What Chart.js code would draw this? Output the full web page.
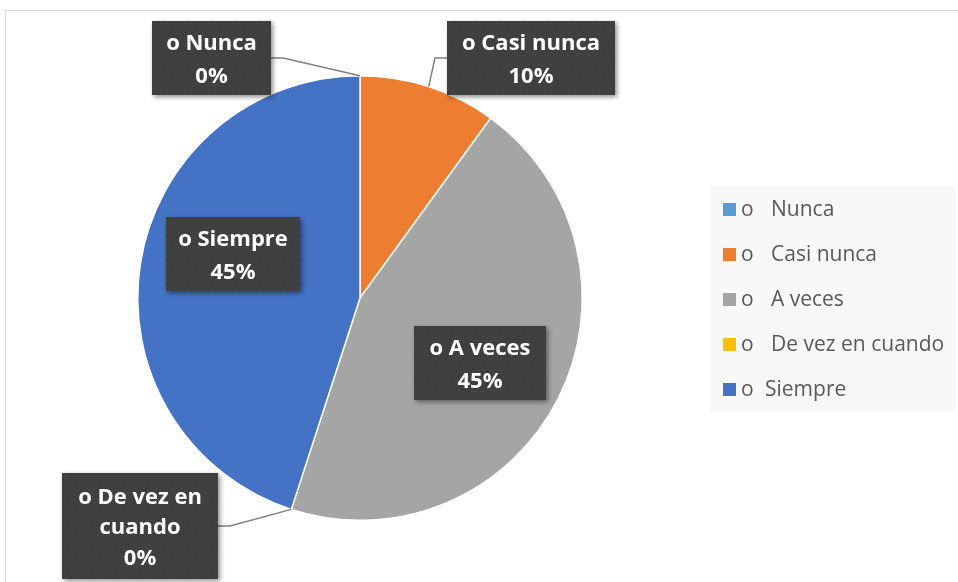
<!DOCTYPE html>
<html>
<head>
<meta charset="utf-8">
<script src="https://cdn.jsdelivr.net/npm/chart.js@4/dist/chart.umd.min.js"></script>
<style>
  html, body { margin: 0; padding: 0; background: #fff; }
  #pieChart { display: block; }
</style>
</head>
<body>
<canvas id="pieChart" width="958" height="582"></canvas>
<script>
// Data
const categories = ['Nunca', 'Casi nunca', 'A veces', 'De vez en cuando', 'Siempre'];
const percentages = [0, 10, 45, 0, 45];
const sliceColors = ['#5b9bd5', '#ed7d31', '#a5a5a5', '#ffc000', '#4472c4'];

// Where each dark label box sits, relative to the pie centre (Excel's layout)
const labelBoxes = [
    { dx: -148.5, dy: -240, w: 119, h: 74, leader: true },
    { dx: 171, dy: -240, w: 168, h: 74, leader: true },
    { dx: 120, dy: 65, w: 132, h: 74 },
    { dx: -220, dy: 228, w: 156, h: 106, leader: true },
    { dx: -127, dy: -44, w: 134, h: 74 }
];

// little dotted texture used by Excel's dark label style
function makePattern(ctx) {
    const c = document.createElement('canvas');
    c.width = 6; c.height = 6;
    const p = c.getContext('2d');
    p.fillStyle = '#3f3f3f';
    p.fillRect(0, 0, 6, 6);
    p.fillStyle = '#4b4b4b';
    p.fillRect(1, 1, 1, 1);
    p.fillRect(4, 4, 1, 1);
    return ctx.createPattern(c, 'repeat');
}

function wrapText(ctx, text, maxWidth) {
    const words = text.split(' ');
    const lines = [];
    let line = '';
    words.forEach((w) => {
        const test = line ? line + ' ' + w : w;
        if (line && ctx.measureText(test).width > maxWidth) {
            lines.push(line);
            line = w;
        } else {
            line = test;
        }
    });
    if (line) lines.push(line);
    return lines;
}

// chart frame
const framePlugin = {
    id: 'frame',
    beforeDraw(chart) {
        const ctx = chart.ctx;
        ctx.save();
        ctx.fillStyle = '#ffffff';
        ctx.fillRect(0, 0, chart.width, chart.height);
        ctx.strokeStyle = '#d9d9d9';
        ctx.lineWidth = 1;
        ctx.strokeRect(5.5, 10.5, chart.width + 20, chart.height + 20);
        ctx.restore();
    }
};

// dark boxed data labels with leader lines
const boxLabelsPlugin = {
    id: 'boxLabels',
    afterDatasetsDraw(chart) {
        const ctx = chart.ctx;
        const arcs = chart.getDatasetMeta(0).data;
        const pattern = makePattern(ctx);
        ctx.save();
        arcs.forEach((arc, i) => {
            const place = labelBoxes[i];
            const cx = arc.x + place.dx;
            const cy = arc.y + place.dy;
            const left = cx - place.w / 2;
            const top = cy - place.h / 2;

            if (place.leader) {
                const mid = (arc.startAngle + arc.endAngle) / 2;
                const ex = arc.x + Math.cos(mid) * arc.outerRadius;
                const ey = arc.y + Math.sin(mid) * arc.outerRadius;
                const side = ex > cx ? left + place.w : left;
                const elbow = ex > cx ? side + 12 : side - 12;
                ctx.strokeStyle = '#808080';
                ctx.lineWidth = 1.5;
                ctx.beginPath();
                ctx.moveTo(ex, ey);
                ctx.lineTo(elbow, cy);
                ctx.lineTo(side, cy);
                ctx.stroke();
            }

            ctx.save();
            ctx.shadowColor = 'rgba(0,0,0,0.45)';
            ctx.shadowBlur = 5;
            ctx.shadowOffsetX = 2;
            ctx.shadowOffsetY = 2;
            ctx.fillStyle = pattern;
            ctx.fillRect(left, top, place.w, place.h);
            ctx.restore();

            ctx.font = 'bold 22px "Open Sans"';
            ctx.fillStyle = '#ffffff';
            ctx.textAlign = 'center';
            ctx.textBaseline = 'middle';
            const lines = wrapText(ctx, 'o ' + categories[i], place.w - 16);
            lines.push(percentages[i] + '%');
            const lh = lines.length > 2 ? 30.5 : 32.5;
            const y0 = cy + 2 - (lines.length - 1) * lh / 2;
            lines.forEach((t, k) => ctx.fillText(t, cx, y0 + k * lh));
        });
        ctx.restore();
    }
};

// legend box on the right
const legendPlugin = {
    id: 'sideLegend',
    afterDraw(chart) {
        const ctx = chart.ctx;
        ctx.save();
        ctx.fillStyle = '#f8f8f8';
        ctx.fillRect(710, 186, 245, 226);
        ctx.font = '21px "Open Sans"';
        ctx.textBaseline = 'middle';
        ctx.textAlign = 'left';
        categories.forEach((name, i) => {
            const y = 210 + i * 45;
            ctx.fillStyle = sliceColors[i];
            ctx.fillRect(723, y - 7, 13, 13);
            ctx.fillStyle = '#595959';
            ctx.fillText('o', 741, y);
            ctx.fillText(name, i === 4 ? 765 : 771, y);
        });
        ctx.restore();
    }
};

const pieCtx = document.getElementById('pieChart').getContext('2d');
const pieChart = new Chart(pieCtx, {
    type: 'pie',
    data: {
        labels: categories,
        datasets: [{
            data: percentages,
            backgroundColor: sliceColors,
            borderColor: '#ffffff',
            borderWidth: 1.5
        }]
    },
    options: {
        responsive: false,
        animation: false,
        layout: {
            padding: { left: 137, right: 375, top: 75, bottom: 61 }
        },
        plugins: {
            legend: { display: false },
            tooltip: { enabled: false }
        }
    },
    plugins: [framePlugin, boxLabelsPlugin, legendPlugin]
});
</script>
</body>
</html>
